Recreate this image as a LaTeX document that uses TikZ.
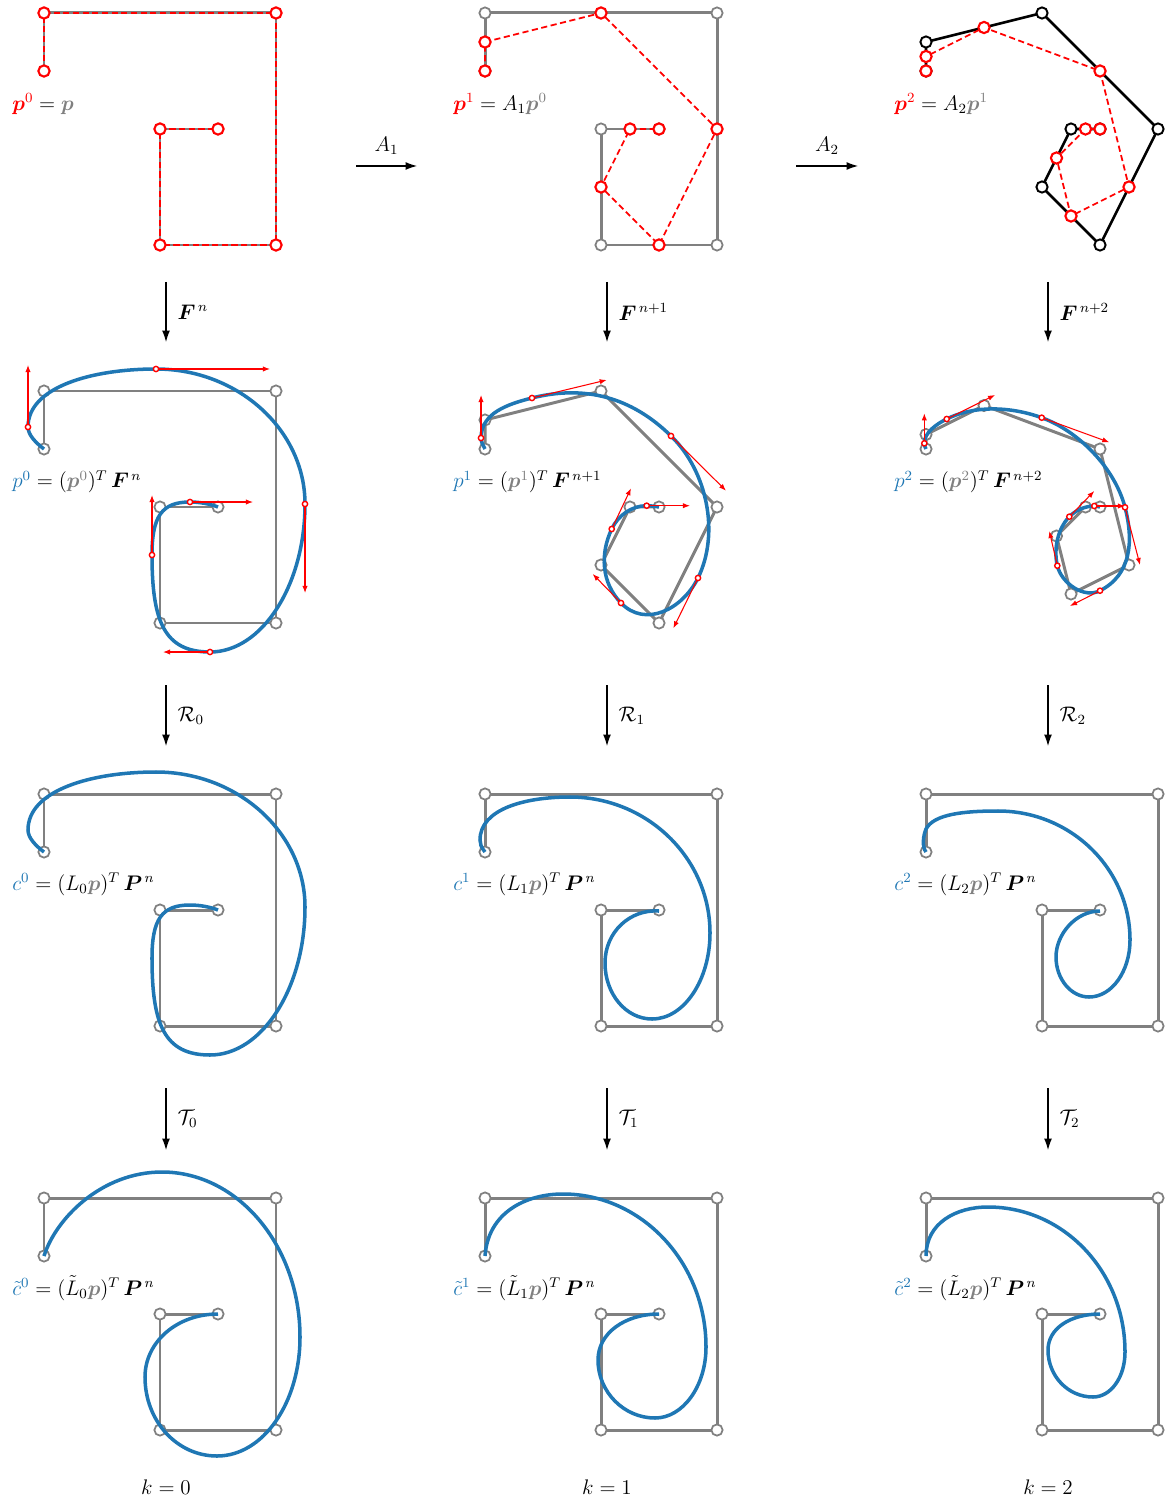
\documentclass[tikz,border=0pt]{standalone}
\usepackage{amsmath,amssymb,bm}
\usetikzlibrary{arrows.meta}

\definecolor{cblue}{RGB}{31,119,180}
\definecolor{cgray}{RGB}{128,128,128}

% control polygons (px, relative to the top-left vertex of a panel)
\newcommand{\ptsP}{0/58,0/0,232/0,232/232,116/232,116/116,174/116}
\newcommand{\ptsPa}{0/58,0/29,116/0,232/116,174/232,116/174,145/116,174/116}
\newcommand{\ptsPb}{0/58,0/43.5,58/14.5,174/58,203/174,145/203,130.5/145,159.5/116,174/116}

% curves
\newcommand{\crvCa}{(0,58) .. controls (-8,52) and (-16,44) .. (-16,36)
  .. controls (-16,-4) and (48,-22) .. (112,-22)
  .. controls (194,-22) and (261,39) .. (261,113)
  .. controls (261,194) and (218,261) .. (166,261)
  .. controls (120,261) and (108,230) .. (108,164)
  .. controls (108,125) and (118,111) .. (146,111)
  .. controls (156,111) and (166,113) .. (174,116)}
\newcommand{\crvCb}{(0,58) .. controls (-4,53) and (-5,50) .. (-5,46)
  .. controls (-5,15) and (40,3) .. (85,3)
  .. controls (162,3) and (225,64) .. (225,139)
  .. controls (225,186) and (199,225) .. (167,225)
  .. controls (141,225) and (120,200) .. (120,169)
  .. controls (120,138) and (145,115) .. (174,117)}
\newcommand{\crvCc}{(0,58) .. controls (-4,53) and (-3,42) .. (0,35)
  .. controls (8,20) and (38,17) .. (72,17)
  .. controls (145,17) and (204,75) .. (204,146)
  .. controls (204,177) and (186,203) .. (163,203)
  .. controls (145,203) and (130,185) .. (130,163)
  .. controls (130,140) and (150,117) .. (174,117)}
\newcommand{\crvTa}{(0,58) .. controls (12,20) and (58,-26) .. (118,-26)
  .. controls (194,-26) and (256,48) .. (256,139)
  .. controls (256,205) and (219,258) .. (173,258)
  .. controls (133,258) and (101,223) .. (101,179)
  .. controls (101,144) and (133,116) .. (174,116)}
\newcommand{\crvTb}{(0,58) .. controls (3,15) and (40,-4) .. (78,-4)
  .. controls (157,-4) and (221,65) .. (221,149)
  .. controls (221,188) and (198,220) .. (170,220)
  .. controls (139,220) and (113,194) .. (113,162)
  .. controls (113,135) and (140,116) .. (174,116)}
\newcommand{\crvTc}{(0,58) .. controls (0,25) and (30,9) .. (62,9)
  .. controls (138,9) and (199,74) .. (199,154)
  .. controls (199,179) and (185,199) .. (167,199)
  .. controls (142,199) and (122,178) .. (122,152)
  .. controls (122,130) and (145,116) .. (174,116)}
\newcommand{\crvQb}{(0,58) .. controls (-2,54) and (-4,51) .. (-4,47)
  .. controls (-4,22) and (23,13) .. (47,7)
  .. controls (100,-6.5) and (147,6.5) .. (186,45)
  .. controls (222,80) and (235,142) .. (213,187)
  .. controls (197.4,218.3) and (160.3,237.2) .. (136,212)
  .. controls (116.5,191.9) and (114.8,163.3) .. (126.7,138)
  .. controls (133,124.4) and (146.7,114.7) .. (161.7,114.7)
  .. controls (166,114.7) and (170,115.5) .. (174,116)}
\newcommand{\crvQc}{(0,58) .. controls (-1,56) and (-1.7,54.5) .. (-1.7,52.3)
  .. controls (-1.7,41.3) and (10.8,32.9) .. (20.7,28)
  .. controls (49.4,13.8) and (85.6,15.8) .. (115.7,26.7)
  .. controls (153.3,40.4) and (188.9,77.6) .. (199,116.3)
  .. controls (207.8,150.2) and (205.2,183.8) .. (174,199.7)
  .. controls (158,207.9) and (135.4,192.2) .. (131.3,174.7)
  .. controls (127.5,158.1) and (131.5,137.9) .. (143.3,125.7)
  .. controls (149.6,119.2) and (159.3,115) .. (168.3,115)
  .. controls (170,115) and (172,115.5) .. (174,116)}

% tangents: point / arrow tip
\newcommand{\tanA}{-16/36/-16/-26,112/-22/226/-22,261/113/261/202,166/261/119/261,108/164/108/104,146/111/209/111}
\newcommand{\tanB}{-4/47/-4/4,47/7/121.7/-11,186/45/241/99.7,213/187/188.3/237.3,136/212/107.7/183,126.7/138/146/97.3,161.7/114.7/205/114.7}
\newcommand{\tanC}{-1.7/52.3/-1.7/22.3,20.7/28/69/4,115.7/26.7/183.3/51.3,199/116.3/214/174,174/199.7/144/215,131.3/174.7/123.3/140,143.3/125.7/168.3/100,168.3/115/199/115}

\begin{document}
\begin{tikzpicture}[x=0.02cm,y=-0.02cm,>={Latex[length=6.5pt,width=4.5pt]},
gline/.style={draw=cgray,line width=1.7pt},
kline/.style={draw=black,line width=1.5pt},
rdash/.style={draw=red,line width=1pt,dash pattern=on 3.5pt off 2pt},
gvtx/.style={draw=cgray,fill=white,line width=1pt},
kvtx/.style={draw=black,fill=white,line width=1.1pt},
rvtx/.style={draw=red,fill=white,line width=1.2pt},
spl/.style={draw=cblue,line width=2pt},
tang/.style={draw=red,line width=0.6pt,-{Latex[length=4pt,width=3pt]}},
tpt/.style={draw=red,fill=white,line width=0.8pt},
lbl/.style={anchor=west,font=\large,inner sep=0pt},
map/.style={->,line width=0.6pt}]
\useasboundingbox (0,0) rectangle (1166,1503);

% row 1: control polygons
\begin{scope}[shift={(44,13)}]
\draw[gline] (0,58) \foreach \x/\y in \ptsP {-- (\x,\y)};
\draw[rdash] (0,58) \foreach \x/\y in \ptsP {-- (\x,\y)};
\foreach \x/\y in \ptsP {\path[rvtx] (\x,\y) circle[radius=3.2pt];}
\node[lbl] (lp0) at (-32,91) {$\textcolor{red}{\bm{p}^0} = \textcolor{cgray}{\bm{p}}$};
\end{scope}
\begin{scope}[shift={(485,13)}]
\draw[gline] (0,58) \foreach \x/\y in \ptsP {-- (\x,\y)};
\foreach \x/\y in \ptsP {\path[gvtx] (\x,\y) circle[radius=3.2pt];}
\draw[rdash] (0,58) \foreach \x/\y in \ptsPa {-- (\x,\y)};
\foreach \x/\y in \ptsPa {\path[rvtx] (\x,\y) circle[radius=3.2pt];}
\node[lbl] (lp1) at (-32,91) {$\textcolor{red}{\bm{p}^1} = A_1\textcolor{cgray}{\bm{p}^0}$};
\end{scope}
\begin{scope}[shift={(926,13)}]
\draw[kline] (0,58) \foreach \x/\y in \ptsPa {-- (\x,\y)};
\foreach \x/\y in \ptsPa {\path[kvtx] (\x,\y) circle[radius=3.2pt];}
\draw[rdash] (0,58) \foreach \x/\y in \ptsPb {-- (\x,\y)};
\foreach \x/\y in \ptsPb {\path[rvtx] (\x,\y) circle[radius=3.2pt];}
\node[lbl] (lp2) at (-32,91) {$\textcolor{red}{\bm{p}^2} = A_2\textcolor{cgray}{\bm{p}^1}$};
\end{scope}

% row 2: curves with tangents
\begin{scope}[shift={(44,391)}]
\draw[gline] (0,58) \foreach \x/\y in \ptsP {-- (\x,\y)};
\foreach \x/\y in \ptsP {\path[gvtx] (\x,\y) circle[radius=3.2pt];}
\draw[spl] \crvCa;
\foreach \x/\y/\u/\v in \tanA {\draw[tang] (\x,\y) -- (\u,\v);}
\foreach \x/\y/\u/\v in \tanA {\path[tpt] (\x,\y) circle[radius=1.5pt];}
\node[lbl] (lf0) at (-32,91) {$\textcolor{cblue}{p^0} = (\textcolor{cgray}{\bm{p}^0})^T\,\bm{F}^{\,n}$};
\end{scope}
\begin{scope}[shift={(485,391)}]
\draw[gline] (0,58) \foreach \x/\y in \ptsPa {-- (\x,\y)};
\foreach \x/\y in \ptsPa {\path[gvtx] (\x,\y) circle[radius=3.2pt];}
\draw[spl] \crvQb;
\foreach \x/\y/\u/\v in \tanB {\draw[tang] (\x,\y) -- (\u,\v);}
\foreach \x/\y/\u/\v in \tanB {\path[tpt] (\x,\y) circle[radius=1.5pt];}
\node[lbl] (lf1) at (-32,91) {$\textcolor{cblue}{p^1} = (\textcolor{cgray}{\bm{p}^1})^T\,\bm{F}^{\,n+1}$};
\end{scope}
\begin{scope}[shift={(926,391)}]
\draw[gline] (0,58) \foreach \x/\y in \ptsPb {-- (\x,\y)};
\foreach \x/\y in \ptsPb {\path[gvtx] (\x,\y) circle[radius=3.2pt];}
\draw[spl] \crvQc;
\foreach \x/\y/\u/\v in \tanC {\draw[tang] (\x,\y) -- (\u,\v);}
\foreach \x/\y/\u/\v in \tanC {\path[tpt] (\x,\y) circle[radius=1.5pt];}
\node[lbl] (lf2) at (-32,91) {$\textcolor{cblue}{p^2} = (\textcolor{cgray}{\bm{p}^2})^T\,\bm{F}^{\,n+2}$};
\end{scope}

% rows 3 and 4
\foreach \k/\X/\crv in {0/44/\crvCa,1/485/\crvCb,2/926/\crvCc}{
\begin{scope}[shift={(\X,794)}]
\draw[gline] (0,58) \foreach \x/\y in \ptsP {-- (\x,\y)};
\foreach \x/\y in \ptsP {\path[gvtx] (\x,\y) circle[radius=3.2pt];}
\draw[spl] \crv;
\node[lbl] (lc\k) at (-32,90) {$\textcolor{cblue}{c^{\k}} = (L_{\k}\textcolor{cgray}{\bm{p}})^T\,\bm{P}^{\,n}$};
\end{scope}}
\foreach \k/\X/\crv in {0/44/\crvTa,1/485/\crvTb,2/926/\crvTc}{
\begin{scope}[shift={(\X,1198)}]
\draw[gline] (0,58) \foreach \x/\y in \ptsP {-- (\x,\y)};
\foreach \x/\y in \ptsP {\path[gvtx] (\x,\y) circle[radius=3.2pt];}
\draw[spl] \crv;
\node[lbl] (lt\k) at (-32,90) {$\textcolor{cblue}{\tilde{c}^{\k}} = (\tilde{L}_{\k}\textcolor{cgray}{\bm{p}})^T\,\bm{P}^{\,n}$};
\end{scope}}

% maps between panels
\coordinate (h1a) at (356,166); \coordinate (h1b) at (417,166);
\coordinate (h2a) at (796,166); \coordinate (h2b) at (858,166);
\draw[map] (h1a) -- (h1b) node[midway,above=3pt,font=\large] {$A_1$};
\draw[map] (h2a) -- (h2b) node[midway,above=3pt,font=\large] {$A_2$};
\foreach \k/\x/\s in {0/166/,1/607/+1,2/1048/+2}{
\coordinate (fa\k) at (\x,282); \coordinate (fb\k) at (\x,342);
\coordinate (ra\k) at (\x,685); \coordinate (rb\k) at (\x,746);
\coordinate (ta\k) at (\x,1088); \coordinate (tb\k) at (\x,1150);
\draw[map] (fa\k) -- (fb\k) node[midway,right=3pt,font=\large] {$\bm{F}^{\,n\s}$};
\draw[map] (ra\k) -- (rb\k) node[midway,right=3pt,font=\large] {$\mathcal{R}_{\k}$};
\draw[map] (ta\k) -- (tb\k) node[midway,right=3pt,font=\large] {$\mathcal{T}_{\k}$};
\node[font=\large] (kk\k) at (\x,1487) {$k=\k$};}
\end{tikzpicture}
\end{document}
